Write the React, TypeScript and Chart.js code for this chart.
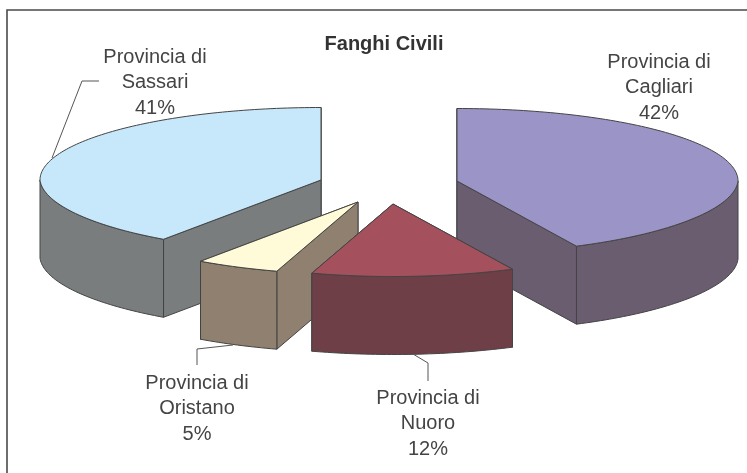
import React, { useEffect, useRef } from "react";
import { Chart, registerables } from "chart.js";

Chart.register(...registerables);

const chartTitle = "Fanghi Civili";
const provinces = ["Cagliari", "Nuoro", "Oristano", "Sassari"];
const shares = [42, 12, 5, 41];

const topColors = ["#9b94c6", "#a5515d", "#fffbd8", "#c6e8fa"];
const wallColors = ["#6b5d70", "#6f3f47", "#8f806f", "#7a7d7e"];
const explodeX = [73, 9, -26, -63];
const explodeY = [0, 23, 21, -1];
const paintOrder = [3, 0, 2, 1];
const labelAnchors = [
  [659, 62],
  [428, 398],
  [197, 383],
  [155, 57],
];
const leaders = [
  null,
  [[428, 381], [428, 363], [413, 354]],
  [[197, 365], [197, 349], [233, 345]],
  [[99, 81], [82, 81], [52, 158]],
];

const RADIUS = 281;
const SQUASH_Y = 72.5;
const DEPTH = 78;
const TWIST = (3 * Math.PI) / 180;
const TAPER = 0.033;
const INK = "#444444";
const FONT = '"Liberation Sans", Arial, sans-serif';

const twist = (t: number) => t + (TWIST * (1 - Math.cos(t))) / 2;
const rimPoint = (cx: number, cy: number, R: number, t: number) => {
  const u = Math.sin(t);
  const v = -Math.cos(t);
  return [cx + R * u * (1 - TAPER * Math.max(v, 0)), cy + SQUASH_Y * v];
};

const rimPath = (cx: number, cy: number, R: number, a: number, b: number, dy = 0) => {
  const pts: number[][] = [];
  const steps = Math.max(2, Math.ceil((b - a) / 0.02));
  for (let i = 0; i <= steps; i++) {
    const p = rimPoint(cx, cy, R, a + ((b - a) * i) / steps);
    pts.push([p[0], p[1] + dy]);
  }
  return pts;
};

const fillPoly = (ctx: CanvasRenderingContext2D, pts: number[][], fill: string) => {
  ctx.beginPath();
  pts.forEach((p, i) => (i ? ctx.lineTo(p[0], p[1]) : ctx.moveTo(p[0], p[1])));
  ctx.closePath();
  ctx.fillStyle = fill;
  ctx.fill();
  ctx.stroke();
};

const pie3d = {
  id: "pie3d",
  beforeDraw(chart: any) {
    const ctx = chart.ctx;
    ctx.save();
    ctx.fillStyle = "#ffffff";
    ctx.fillRect(0, 0, chart.width, chart.height);
    ctx.strokeStyle = "#4a4a4a";
    ctx.lineWidth = 1.6;
    ctx.beginPath();
    ctx.moveTo(7, chart.height);
    ctx.lineTo(7, 10);
    ctx.lineTo(chart.width, 10);
    ctx.stroke();
    ctx.restore();
  },
  beforeDatasetDraw(chart: any, args: any) {
    const ctx = chart.ctx;
    const arcs = args.meta.data;
    ctx.save();
    ctx.lineJoin = "round";
    ctx.strokeStyle = INK;
    ctx.lineWidth = 1;
    paintOrder.forEach((i) => {
      const arc = arcs[i];
      const cx = arc.x + explodeX[i];
      const cy = arc.y + explodeY[i];
      const R = arc.outerRadius;
      const a = twist(arc.startAngle + Math.PI / 2);
      const b = twist(arc.endAngle + Math.PI / 2);
      const rim = rimPath(cx, cy, R, a, b);
      const apex = [cx, cy];
      const low = (p: number[]) => [p[0], p[1] + DEPTH];

      // radial faces, the one nearer the viewer last
      [rim[0], rim[rim.length - 1]]
        .sort((p, q) => p[1] - q[1])
        .forEach((p) => {
          fillPoly(ctx, [apex, p, low(p), low(apex)], wallColors[i]);
        });
      // rim wall on the viewer's side
      const wa = Math.max(a, Math.PI / 2);
      const wb = Math.min(b, (3 * Math.PI) / 2);
      if (wb > wa) {
        const edge = rimPath(cx, cy, R, wa, wb);
        fillPoly(ctx, [...edge, ...edge.slice().reverse().map(low)], wallColors[i]);
      }
      // top
      fillPoly(ctx, [apex, ...rim], topColors[i]);
    });

    // leader lines
    ctx.strokeStyle = "#555555";
    leaders.forEach((line) => {
      if (!line) return;
      ctx.beginPath();
      line.forEach((p, k) => (k ? ctx.lineTo(p[0], p[1]) : ctx.moveTo(p[0], p[1])));
      ctx.stroke();
    });

    // labels
    const total = shares.reduce((s, v) => s + v, 0);
    ctx.fillStyle = "#444444";
    ctx.font = `20px ${FONT}`;
    ctx.textAlign = "center";
    ctx.textBaseline = "middle";
    provinces.forEach((name, i) => {
      const [x, y] = labelAnchors[i];
      ctx.fillText("Provincia di", x, y);
      ctx.fillText(name, x, y + 25);
      ctx.fillText(`${Math.round((shares[i] / total) * 100)}%`, x, y + 51);
    });
    ctx.restore();
    return false;
  },
};

export default function App() {
  const ref = useRef<HTMLCanvasElement | null>(null);
  useEffect(() => {
    document.body.style.margin = "0";
    const chart = new Chart(ref.current as HTMLCanvasElement, {
      type: "pie",
      data: {
        labels: provinces.map((p) => `Provincia di ${p}`),
        datasets: [
          {
            data: shares,
            backgroundColor: topColors,
            borderColor: INK,
            borderWidth: 1,
            radius: RADIUS,
            clip: false,
          } as any,
        ],
      },
      options: {
        responsive: false,
        animation: false,
        layout: { padding: { left: 21, right: 0, top: 32, bottom: 167 } },
        plugins: {
          legend: { display: false },
          tooltip: { enabled: false },
          title: {
            display: true,
            text: chartTitle,
            color: "#333333",
            font: { family: FONT, size: 20, weight: "bold" },
            padding: 0,
          },
        },
      },
      plugins: [pie3d],
    } as any);
    return () => chart.destroy();
  }, []);
  return (
    <div style={{ width: 747, height: 473 }}>
      <canvas ref={ref} width={747} height={473} style={{ display: "block" }} />
    </div>
  );
}
